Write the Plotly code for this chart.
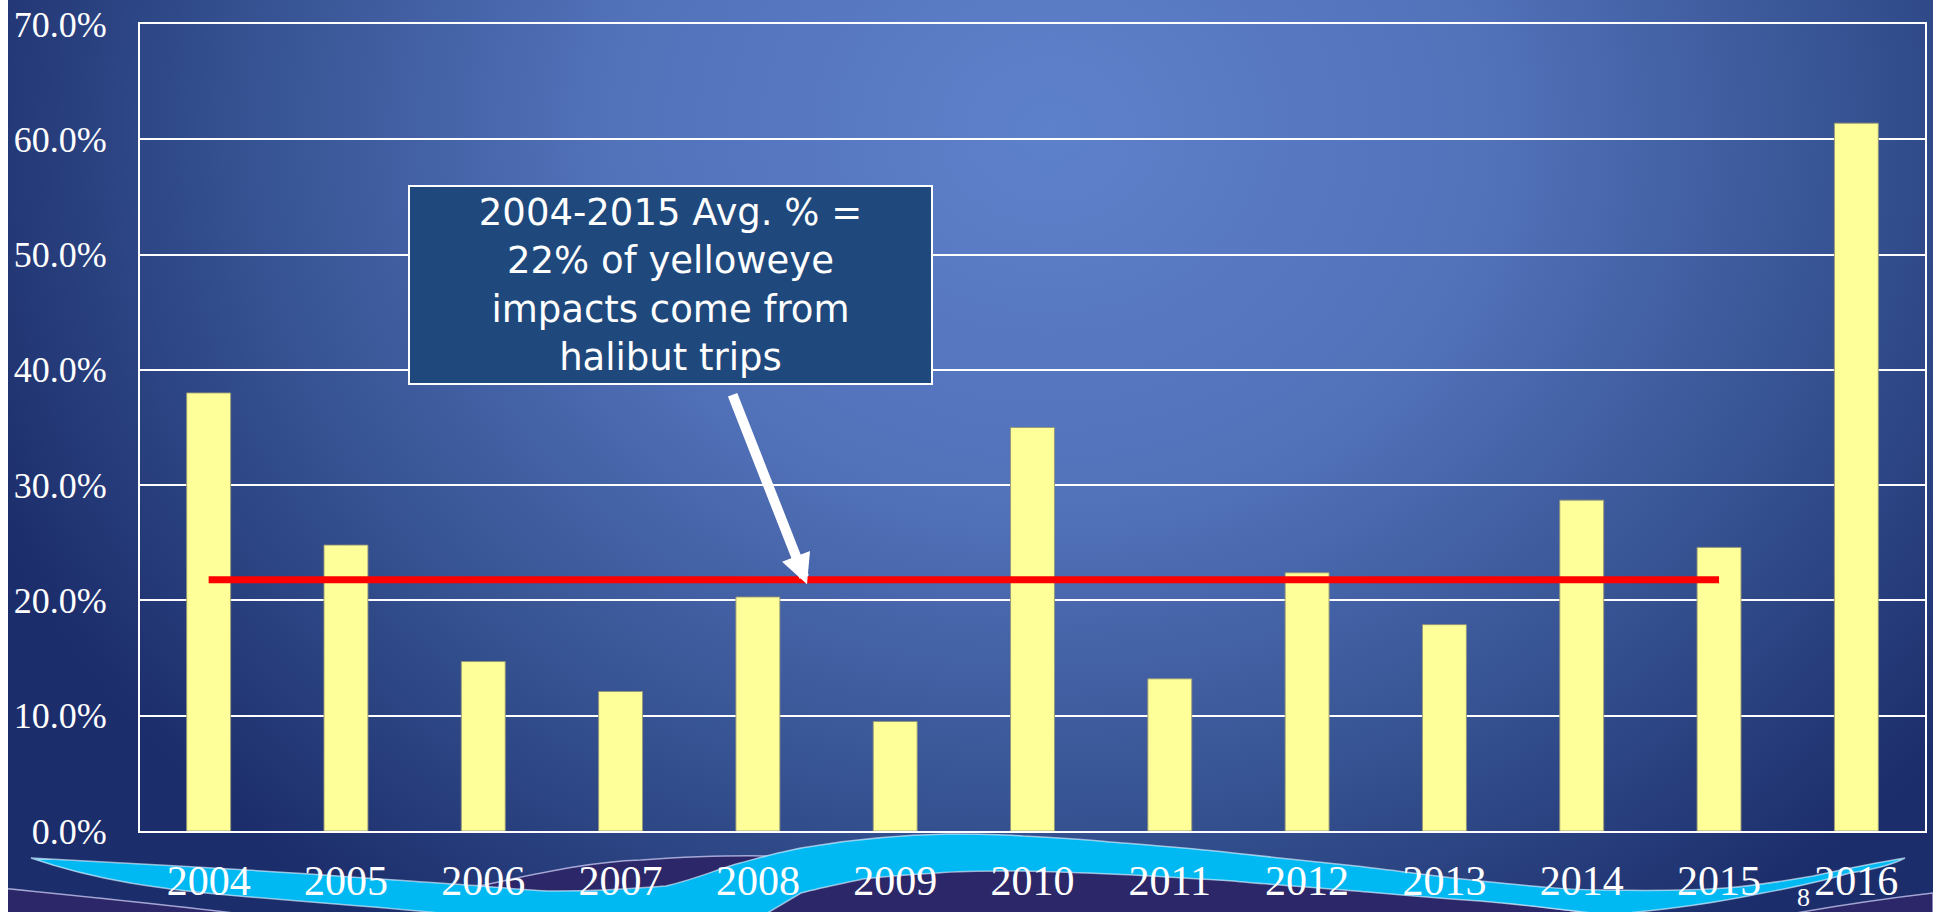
import base64
import plotly.graph_objects as go

# ---------------- data ----------------
years = ["2004", "2005", "2006", "2007", "2008", "2009", "2010",
         "2011", "2012", "2013", "2014", "2015", "2016"]
pct_values = [38.0, 24.8, 14.7, 12.1, 20.3, 9.5, 35.0,
              13.2, 22.4, 17.9, 28.7, 24.6, 61.4]
avg_years = ["2004", "2015"]
avg_value = 21.8
y_tick_vals = [0, 10, 20, 30, 40, 50, 60, 70]
y_tick_text = ["0.0%", "10.0%", "20.0%", "30.0%", "40.0%", "50.0%", "60.0%", "70.0%"]
callout_lines = ["2004-2015 Avg. % =", "22% of yelloweye",
                 "impacts come from", "halibut trips"]
slide_number = "8"

# ---------------- geometry ----------------
W, H = 1933, 912
ML, MR, MT, MB = 140, 8, 24, 81
PW, PH = W - ML - MR, H - MT - MB

SERIF = "Liberation Serif, Times New Roman, serif"

# ---------------- background (gradient + decorative wave) ----------------
PURPLE = "#2C2768"
EDGE = "rgba(205,205,245,0.75)"
svg = f'''<svg xmlns="http://www.w3.org/2000/svg" width="{W}" height="{H}" viewBox="0 0 {W} {H}">
<defs>
<radialGradient id="g" cx="1050" cy="130" r="1150" gradientUnits="userSpaceOnUse"
 gradientTransform="translate(1050 130) scale(1 0.85) translate(-1050 -130)">
<stop offset="0" stop-color="#5E81CB"/>
<stop offset="0.38" stop-color="#5272BA"/>
<stop offset="0.72" stop-color="#34508F"/>
<stop offset="1" stop-color="#1C2D6B"/>
</radialGradient>
</defs>
<rect width="{W}" height="{H}" fill="url(#g)"/>
<path d="M0,888 C80,896 170,905 250,915 L0,915 Z" fill="{PURPLE}" stroke="{EDGE}" stroke-width="1.5"/>
<path d="M1785,915 C1840,905 1890,898 1933,893 L1933,915 Z" fill="{PURPLE}" stroke="{EDGE}" stroke-width="1.5"/>
<path d="M469,888 C520,878 580,862 641,860 C700,856 760,854 810,858 L810,915 L469,915 Z"
 fill="{PURPLE}" stroke="{EDGE}" stroke-width="1.5"/>
<path d="M740,915 L800,880 C870,870 950,868 1011,868 C1150,872 1350,888 1480,900 C1540,906 1580,912 1610,915 Z"
 fill="{PURPLE}" stroke="{EDGE}" stroke-width="1.5"/>
<path d="M31,858
 C80,861 160,865 230,869 C320,874 420,882 481,886
 C520,889 540,891 555,891 C610,891 640,888 666,886
 C700,878 720,868 740,863 C770,855 790,849 814,846
 C850,840 900,835 949,834 C990,834 1010,835 1023,836
 C1060,838 1090,840 1110,842 C1160,846 1200,849 1233,853
 C1280,858 1320,862 1356,866 C1400,871 1440,877 1480,881
 C1530,886 1570,890 1603,890 C1660,891 1700,890 1726,888
 C1760,885 1790,880 1813,876 C1850,868 1880,862 1905,858
 C1890,866 1870,870 1850,873 C1820,882 1790,888 1763,893
 C1720,902 1690,906 1665,909 L1610,915
 C1580,912 1540,906 1480,901 C1420,897 1390,894 1356,891
 C1300,886 1260,884 1233,881 C1180,878 1140,875 1110,874
 C1060,872 1030,871 1011,871 C980,871 960,871 937,873
 C900,875 880,877 863,879 C840,884 820,888 801,893
 L764,915 L460,915
 C430,912 400,909 360,906 C320,903 290,900 250,897
 C200,893 160,888 130,883 C90,876 60,868 31,858 Z"
 fill="#00B9F2" stroke="rgba(225,240,255,0.65)" stroke-width="1.5"/>
<rect width="8" height="{H}" fill="#FFFFFF"/>
</svg>'''
bg_uri = "data:image/svg+xml;base64," + base64.b64encode(svg.encode()).decode()

fig = go.Figure()

fig.add_trace(go.Bar(
    x=years, y=pct_values,
    marker=dict(color="#FFFF99", line=dict(color="rgba(150,150,120,0.9)", width=1)),
    hoverinfo="x+y",
))

fig.add_trace(go.Scatter(
    x=avg_years, y=[avg_value, avg_value], mode="lines",
    line=dict(color="#FF0000", width=7),
    hoverinfo="skip",
))

# callout box
fig.add_annotation(
    xref="paper", yref="paper",
    x=(670 - ML) / PW, y=(MT + PH - 285) / PH,
    xanchor="center", yanchor="middle",
    text="<br>".join(callout_lines),
    showarrow=False, align="center", valign="middle",
    width=521, height=196,
    bgcolor="#1F497D", bordercolor="#FFFFFF", borderwidth=2, borderpad=0,
    font=dict(family="DejaVu Sans", size=37, color="#FFFFFF"),
)

# arrow pointing at the average line
fig.add_annotation(
    xref="paper", yref="y",
    x=(807 - ML) / PW, y=21.4,
    ax=-75, ay=-191, axref="pixel", ayref="pixel",
    text="", showarrow=True,
    arrowcolor="#FFFFFF", arrowwidth=10, arrowhead=2, arrowsize=0.6, standoff=0,
)

# slide number
fig.add_annotation(
    xref="paper", yref="paper",
    x=(1803 - ML) / PW, y=(MT + PH - 897) / PH,
    xanchor="center", yanchor="middle",
    text=slide_number, showarrow=False,
    font=dict(family=SERIF, size=26, color="#FFFFFF"),
)

fig.update_layout(
    width=W, height=H,
    margin=dict(l=ML, r=MR, t=MT, b=MB, autoexpand=False),
    paper_bgcolor="#1C2D6B",
    plot_bgcolor="rgba(0,0,0,0)",
    showlegend=False,
    bargap=0.68,
    images=[dict(
        source=bg_uri, xref="paper", yref="paper",
        x=-ML / PW, y=1 + MT / PH, sizex=W / PW, sizey=H / PH,
        xanchor="left", yanchor="top", sizing="stretch", layer="below",
    )],
    xaxis=dict(
        type="category", showgrid=False, ticks="",
        showline=True, linecolor="#FFFFFF", linewidth=2, mirror=True,
        tickfont=dict(family=SERIF, size=42, color="#FFFFFF"),
        ticklabelstandoff=12, automargin=False,
    ),
    yaxis=dict(
        range=[0, 70], tickvals=y_tick_vals, ticktext=y_tick_text,
        showgrid=True, gridcolor="#FFFFFF", gridwidth=2, zeroline=False,
        showline=True, linecolor="#FFFFFF", linewidth=2, mirror=True, ticks="",
        tickfont=dict(family=SERIF, size=36, color="#FFFFFF"),
        ticklabelstandoff=24, automargin=False,
    ),
)

fig.write_html(
    "out.html",
    config={"displayModeBar": False},
    post_script="document.body.style.margin='0';document.body.style.overflow='hidden';",
)
